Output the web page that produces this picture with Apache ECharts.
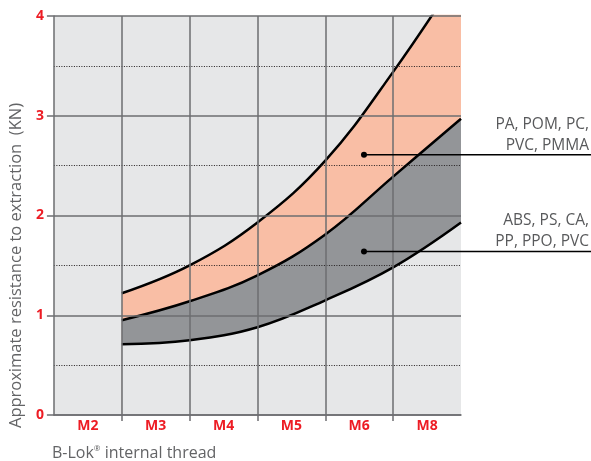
<!DOCTYPE html>
<html>
<head>
<meta charset="utf-8">
<script src="https://cdn.jsdelivr.net/npm/echarts@6/dist/echarts.min.js"></script>
<style>
html,body{margin:0;padding:0;background:#fff;}
#c{width:591px;height:461px;}
</style>
</head>
<body>
<div id="c"></div>
<script>
// ---- data ----
const categories = ['M2', 'M3', 'M4', 'M5', 'M6', 'M8'];
const yTicks = [0, 1, 2, 3, 4];
// curve positions on the thread axis (boundaries between size columns)
const curveX = [1, 2, 3, 4, 5, 6];
const upperCurve = [1.22, 1.50, 1.93, 2.55, 3.44, 4.45];
const middleCurve = [0.95, 1.14, 1.40, 1.81, 2.39, 2.97];
const lowerCurve = [0.71, 0.75, 0.88, 1.15, 1.48, 1.93];
const annotationPoints = [[4.57, 2.61], [4.57, 1.64]];
const annotationLabels = ['PA, POM, PC,\nPVC, PMMA', 'ABS, PS, CA,\nPP, PPO, PVC'];
const yTitle = 'Approximate resistance to extraction  (KN)';
const xTitle = 'B-Lok{sup|®} internal thread';

const pairs = (xs, ys) => xs.map((x, i) => [x, ys[i]]);

const FONT = 'Open Sans';
const RED = '#ed1c24';
const GRIDC = '#6d6e71';
const TXT = '#636466';
const BG = '#e6e7e8';

const chart = echarts.init(document.getElementById('c'), null, {renderer: 'canvas'});

function band(name, ys, fill) {
  return {
    name: name,
    type: 'line',
    data: pairs(curveX, ys),
    smooth: 0.4,
    symbol: 'none',
    z: -5,
    clip: true,
    lineStyle: {color: '#000', width: 2.5},
    areaStyle: {color: fill, opacity: 1},
    silent: true
  };
}

chart.setOption({
  animation: false,
  title: {
    text: xTitle,
    left: 47,
    top: 440,
    textStyle: {
      fontFamily: FONT, fontSize: 16, fontWeight: 'normal', color: TXT,
      rich: {sup: {fontFamily: FONT, fontSize: 8, color: TXT, verticalAlign: 'top', padding: [0, 0, 9, 0]}}
    }
  },
  grid: {
    left: 50, right: 130, top: 16, bottom: 46,
    show: true, backgroundColor: BG, borderWidth: 0, z: -10
  },
  xAxis: {
    type: 'value',
    min: 0, max: 6, interval: 1,
    axisLine: {show: true, lineStyle: {color: GRIDC, width: 1.5}},
    axisTick: {show: true, customValues: [1, 2, 3, 4, 5], length: 6, lineStyle: {color: GRIDC, width: 1.5}},
    axisLabel: {
      show: true,
      customValues: categories.map((c, i) => i + 0.5),
      formatter: v => categories[Math.round(v - 0.5)] || '',
      color: RED, fontFamily: FONT, fontWeight: 'bold', fontSize: 14, margin: 4
    },
    splitLine: {show: true, lineStyle: {color: GRIDC, width: 1.5}}
  },
  yAxis: {
    type: 'value',
    min: 0, max: 4, interval: 1,
    axisLine: {show: true, lineStyle: {color: GRIDC, width: 1.5}},
    axisTick: {show: true, length: 7, lineStyle: {color: GRIDC, width: 1.5}},
    axisLabel: {
      color: RED, fontFamily: FONT, fontWeight: 'bold', fontSize: 14, margin: 10,
      formatter: v => yTicks.includes(v) ? String(v) : ''
    },
    splitLine: {show: true, lineStyle: {color: GRIDC, width: 1.5}},
    minorTick: {show: false, splitNumber: 2},
    minorSplitLine: {show: true, lineStyle: {color: '#231f20', width: 1, type: [1, 1.5]}},
    name: yTitle,
    nameLocation: 'middle',
    nameRotate: 90,
    nameGap: 25,
    nameTextStyle: {fontFamily: FONT, fontSize: 16.5, color: TXT, padding: [0, 100, 0, 0]}
  },
  series: [
    band('upper', upperCurve, '#f9bea5'),
    band('middle', middleCurve, '#939598'),
    band('lower', lowerCurve, BG)
  ]
});

// annotations: dot at a data position + leader line to the right edge + label
const W = chart.getWidth();
const graphics = [];
annotationPoints.forEach((pt, i) => {
  const p = chart.convertToPixel({gridIndex: 0}, pt);
  graphics.push({
    type: 'line', z: 100,
    shape: {x1: p[0], y1: p[1], x2: W, y2: p[1]},
    style: {stroke: '#000', lineWidth: 1.5}
  });
  graphics.push({
    type: 'circle', z: 101,
    shape: {cx: p[0], cy: p[1], r: 3},
    style: {fill: '#000'}
  });
  graphics.push({
    type: 'text', z: 101,
    x: W - 2, y: p[1] + 1,
    style: {
      text: annotationLabels[i], fill: '#58595b', font: '15.5px "' + FONT + '"',
      align: 'right', verticalAlign: 'bottom', lineHeight: 21
    }
  });
});
chart.setOption({graphic: graphics});
</script>
</body>
</html>
